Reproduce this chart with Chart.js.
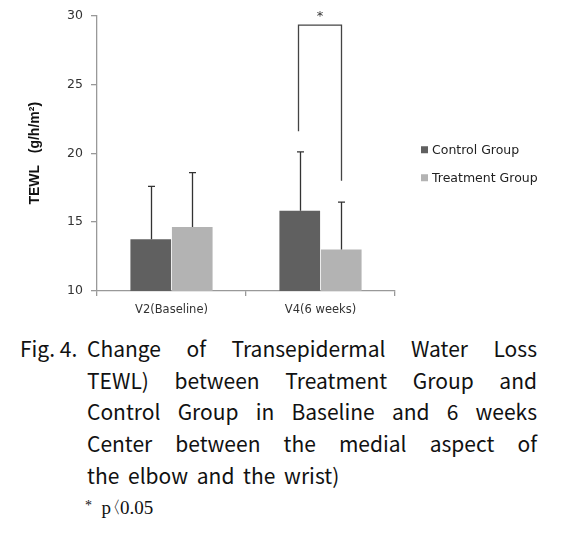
<!DOCTYPE html>
<html><head><meta charset="utf-8">
<script src="https://cdn.jsdelivr.net/npm/chart.js@4/dist/chart.umd.min.js"></script>
<style>
html,body{margin:0;padding:0;background:#fff}
body{width:570px;height:544px;overflow:hidden;position:relative}
#wrap{position:absolute;left:0;top:0;width:570px;height:325px}
.cap{position:absolute;font-family:"Noto Sans CJK KR","Noto Sans",sans-serif;font-size:21px;color:#111;line-height:32px;white-space:nowrap}
.j{left:87px;width:450px;white-space:normal;text-align:justify;text-align-last:justify}
.p{position:absolute;left:85px;font-family:"Liberation Serif",serif;font-size:19px;color:#111;line-height:32px;white-space:pre}
</style></head>
<body>
<div id="wrap"><canvas id="c" width="570" height="325"></canvas></div>
<div class="cap" style="left:20px;top:332px">Fig. 4.</div>
<div class="cap j" style="top:332px">Change of Transepidermal Water Loss</div>
<div class="cap j" style="top:364px">TEWL) between Treatment Group and</div>
<div class="cap j" style="top:395px">Control Group in Baseline and 6 weeks</div>
<div class="cap j" style="top:427px">Center between the medial aspect of</div>
<div class="cap" style="left:87px;top:459px;word-spacing:4px">the elbow and the wrist)</div>
<div class="p" style="top:490px"><span style="font-size:14px;vertical-align:4px">*</span>  p<span style="display:inline-block;width:9px;overflow:hidden;vertical-align:bottom;font-size:17px"><span style="margin-left:-7px">〈</span></span>0.05</div>
<script>
const categories = ['V2(Baseline)', 'V4(6 weeks)'];
const seriesNames = ['Control Group', 'Treatment Group'];
const controlMean = [13.75, 15.82];
const treatmentMean = [14.64, 13.02];
const controlSD = [3.85, 4.28];
const treatmentSD = [3.96, 3.43];
const yTickValues = [10, 15, 20, 25, 30];
const bracketValues = [21.6, 29.3, 18.0]; // left end, top, right end
const bracketLabel = '*';
const sdSets = [controlSD, treatmentSD];

const errorBars = {
  id: 'errorBars',
  afterDatasetsDraw(chart) {
    const ctx = chart.ctx, y = chart.scales.y;
    ctx.save();
    ctx.strokeStyle = '#333';
    ctx.lineWidth = 1.3;
    chart.data.datasets.forEach((ds, i) => {
      const meta = chart.getDatasetMeta(i);
      meta.data.forEach((bar, j) => {
        const top = y.getPixelForValue(ds.data[j] + sdSets[i][j]);
        const x = Math.round(bar.x) + 0.5;
        ctx.beginPath();
        ctx.moveTo(x, bar.y);
        ctx.lineTo(x, top);
        ctx.moveTo(x - 3.5, top);
        ctx.lineTo(x + 3.5, top);
        ctx.stroke();
      });
    });
    const b0 = chart.getDatasetMeta(0).data[1], b1 = chart.getDatasetMeta(1).data[1];
    const xl = Math.round(b0.x) - 1.5, xr = Math.round(b1.x) + 0.5;
    ctx.strokeStyle = '#444';
    ctx.beginPath();
    ctx.moveTo(xl, y.getPixelForValue(bracketValues[0]));
    ctx.lineTo(xl, y.getPixelForValue(bracketValues[1]));
    ctx.lineTo(xr, y.getPixelForValue(bracketValues[1]));
    ctx.lineTo(xr, y.getPixelForValue(bracketValues[2]));
    ctx.stroke();
    ctx.fillStyle = '#333';
    ctx.font = '13px "DejaVu Sans"';
    ctx.textAlign = 'center';
    ctx.textBaseline = 'middle';
    ctx.fillText(bracketLabel, (xl + xr) / 2, y.getPixelForValue(bracketValues[1]) - 9);
    ctx.restore();
  }
};

const sideLegend = {
  id: 'sideLegend',
  afterDraw(chart) {
    const ctx = chart.ctx, a = chart.chartArea;
    ctx.save();
    ctx.font = '12.5px "DejaVu Sans"';
    ctx.textBaseline = 'middle';
    ctx.textAlign = 'left';
    const x0 = a.right + 26, yc = (a.top + a.bottom) / 2;
    chart.data.datasets.forEach((ds, i) => {
      const yy = yc - 3 + i * 28;
      ctx.fillStyle = ds.backgroundColor;
      ctx.fillRect(x0, yy - 4, 7, 7);
      ctx.fillStyle = '#222';
      ctx.fillText(ds.label, x0 + 11, yy);
    });
    ctx.restore();
  }
};

new Chart(document.getElementById('c'), {
  type: 'bar',
  data: {
    labels: categories,
    datasets: [
      { label: seriesNames[0], data: controlMean, backgroundColor: '#606060' },
      { label: seriesNames[1], data: treatmentMean, backgroundColor: '#b3b3b3' }
    ]
  },
  options: {
    responsive: false,
    animation: false,
    events: [],
    layout: { padding: { left: 0, top: 15, right: 175, bottom: 0 } },
    categoryPercentage: 0.557,
    barPercentage: 0.98,
    plugins: { legend: { display: false }, tooltip: { enabled: false } },
    scales: {
      x: {
        grid: { offset: true, drawOnChartArea: false, tickLength: 5, color: '#999', lineWidth: 1.3 },
        border: { color: '#999', width: 1.3 },
        ticks: { color: '#333', font: { family: 'DejaVu Sans', size: 11.5 }, padding: 7 },
        afterFit(s) { s.height = 34; }
      },
      y: {
        min: 10, max: 30,
        afterBuildTicks(s) { s.ticks = yTickValues.map(v => ({ value: v })); },
        grid: { drawOnChartArea: false, tickLength: 6, color: '#999', lineWidth: 1.3 },
        border: { color: '#999', width: 1.3 },
        ticks: { color: '#333', font: { family: 'DejaVu Sans', size: 12.5 }, padding: 8 },
        title: { display: true, text: 'TEWL   (g/h/m²)', color: '#111', font: { family: 'Liberation Sans', size: 14, weight: 'bold' }, padding: { top: 27, bottom: 0 } },
        afterFit(s) { s.width = 97; }
      }
    }
  },
  plugins: [errorBars, sideLegend]
});
</script>
</body></html>
